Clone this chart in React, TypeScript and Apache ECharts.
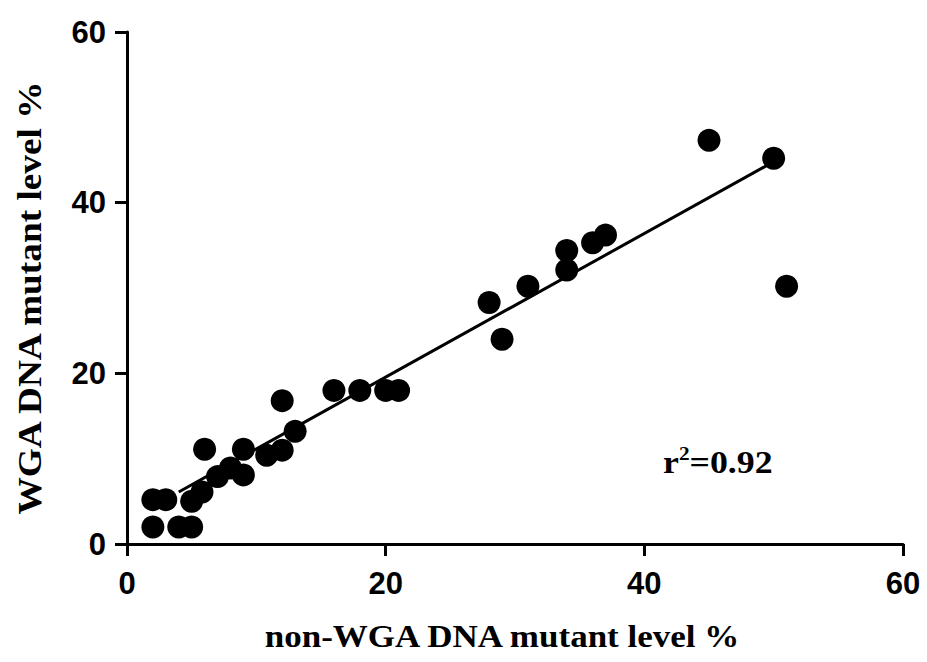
import React, { useEffect, useRef } from "react";
import * as echarts from "echarts";

const xValues = [2, 2, 3, 4, 5, 5, 5.8, 6, 7, 8, 9, 9, 10.8, 12, 12, 13, 16, 18, 20, 21, 28, 29, 31, 34, 34, 36, 37, 45, 50, 51];
const yValues = [2, 5.2, 5.2, 2, 2, 5, 6.1, 11.1, 7.9, 8.9, 11.1, 8.1, 10.4, 11, 16.8, 13.2, 18, 18, 18, 18, 28.3, 24, 30.2, 32.1, 34.4, 35.3, 36.2, 47.3, 45.2, 30.2];
const fitX = [4, 50];
const fitY = [6.1, 44.8];
const tickValues = [0, 20, 40, 60];
const xTitle = "non-WGA DNA mutant level %";
const yTitle = "WGA DNA mutant level %";
const rSquared = "0.92";

export default function App() {
  const ref = useRef<HTMLDivElement>(null);
  useEffect(() => {
    if (!ref.current) return;
    const chart = echarts.init(ref.current, undefined, { renderer: "svg" });
    const points = xValues.map((x, i) => [x, yValues[i]]);
    const fit = fitX.map((x, i) => [x, fitY[i]]);
    const axisCommon = {
      type: "value" as const,
      min: tickValues[0],
      max: tickValues[tickValues.length - 1],
      interval: tickValues[1] - tickValues[0],
      splitLine: { show: false },
      axisLine: { show: true, onZero: false, lineStyle: { color: "#000", width: 3 } },
      axisTick: { show: true, length: 12, lineStyle: { color: "#000", width: 3 } },
    };
    const labelStyle = {
      color: "#000",
      fontFamily: "Liberation Sans, Arial, sans-serif",
      fontWeight: "bold" as const,
      fontSize: 31,
    };
    chart.setOption({
      animation: false,
      backgroundColor: "#fff",
      grid: { left: 127, right: 24, top: 32, bottom: 118 },
      xAxis: { ...axisCommon, axisLabel: { ...labelStyle, margin: 24 } },
      yAxis: { ...axisCommon, axisLabel: { ...labelStyle, margin: 21 } },
      graphic: [
        {
          type: "text",
          x: 502,
          y: 637,
          scaleX: 1.13,
          style: {
            text: xTitle,
            fill: "#000",
            font: "bold 31px 'Liberation Serif', 'Times New Roman', serif",
            align: "center",
            verticalAlign: "middle",
          },
        },
        {
          type: "text",
          x: 30,
          y: 298,
          rotation: Math.PI / 2,
          scaleX: 1.13,
          style: {
            text: yTitle,
            fill: "#000",
            font: "bold 33px 'Liberation Serif', 'Times New Roman', serif",
            align: "center",
            verticalAlign: "middle",
          },
        },
        {
          type: "text",
          x: 663,
          y: 462,
          scaleX: 1.12,
          style: {
            text: "{b|r}{s|2}{b|=" + rSquared + "}",
            verticalAlign: "middle",
            rich: {
              b: { fill: "#000", fontFamily: "Liberation Serif, Times New Roman, serif", fontWeight: "bold", fontSize: 32 },
              s: { fill: "#000", fontFamily: "Liberation Serif, Times New Roman, serif", fontWeight: "bold", fontSize: 19, verticalAlign: "top", padding: [0, 0, 18, 0] },
            },
          },
        },
      ],
      series: [
        {
          type: "line",
          data: fit,
          symbol: "none",
          lineStyle: { color: "#000", width: 3 },
          silent: true,
          z: 2,
        },
        {
          type: "scatter",
          data: points,
          symbol: "circle",
          symbolSize: 23,
          itemStyle: { color: "#000", opacity: 1 },
          z: 3,
        },
      ],
    });
    return () => chart.dispose();
  }, []);
  return <div ref={ref} style={{ position: "fixed", left: 0, top: 0, width: 927, height: 662 }} />;
}
